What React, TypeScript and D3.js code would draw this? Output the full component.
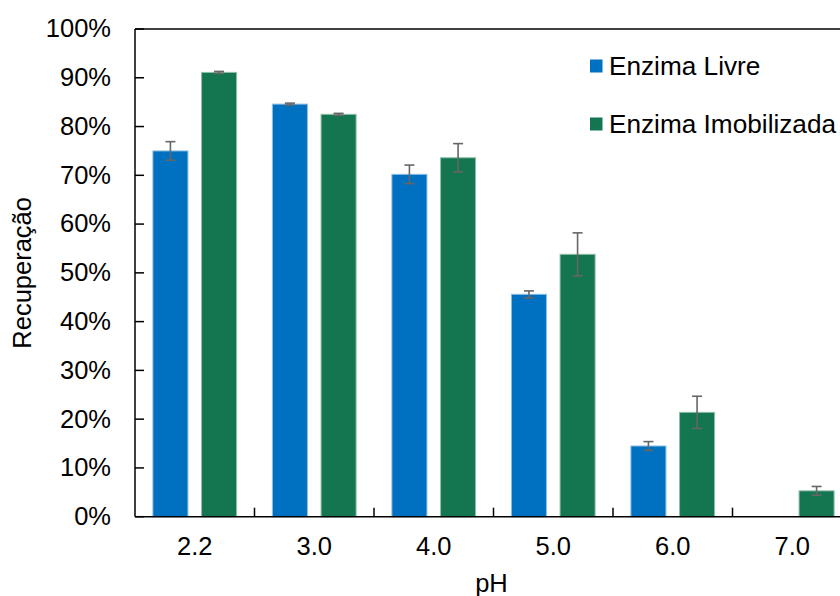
import React, { useEffect, useRef } from 'react';
import * as d3 from 'd3';

const categories = ['2.2', '3.0', '4.0', '5.0', '6.0', '7.0'];
const seriesNames = ['Enzima Livre', 'Enzima Imobilizada'];
const livre = [75.0, 84.6, 70.2, 45.6, 14.5, null];
const livreErr = [1.9, 0.2, 1.9, 0.7, 0.9, null];
const imob = [91.1, 82.5, 73.6, 53.8, 21.4, 5.3];
const imobErr = [0.2, 0.2, 2.9, 4.4, 3.3, 0.9];
const yTicks = [0, 10, 20, 30, 40, 50, 60, 70, 80, 90, 100];

const colors = ['#0070C0', '#147650'];
const edgeColors = ['#8dbfe3', '#8fbfa8'];

const App = () => {
    const ref = useRef<SVGSVGElement>(null);

    useEffect(() => {
        const svg = d3.select(ref.current);
        svg.selectAll('*').remove();

        const font = '"Liberation Sans", Arial, sans-serif';
        const left = 135;
        const right = 852;
        const top = 29;
        const bottom = 516.7;

        const x = d3.scaleBand().domain(categories).range([left, right]).padding(0);
        const xInner = d3.scaleBand()
            .domain(seriesNames)
            .range([0, x.bandwidth()])
            .paddingInner(0.28)
            .paddingOuter(0.368);
        const y = d3.scaleLinear().domain([0, 100]).range([bottom, top]);

        const data = [
            { name: seriesNames[0], values: livre, errs: livreErr },
            { name: seriesNames[1], values: imob, errs: imobErr },
        ];

        // Bars
        data.forEach((s, si) => {
            const g = svg.append('g');
            categories.forEach((c, i) => {
                const v = s.values[i];
                if (v == null) return;
                const bx = (x(c) as number) + (xInner(s.name) as number);
                g.append('rect')
                    .attr('x', bx)
                    .attr('y', y(v))
                    .attr('width', xInner.bandwidth())
                    .attr('height', bottom - y(v))
                    .attr('fill', colors[si])
                    .attr('stroke', edgeColors[si])
                    .attr('stroke-width', 1);
            });
        });

        // Error bars
        data.forEach((s) => {
            const g = svg.append('g').attr('stroke', '#666666').attr('stroke-width', 1.6).attr('fill', 'none');
            categories.forEach((c, i) => {
                const v = s.values[i];
                const e = s.errs[i];
                if (v == null || e == null) return;
                const cx = (x(c) as number) + (xInner(s.name) as number) + xInner.bandwidth() / 2;
                g.append('line').attr('x1', cx).attr('x2', cx).attr('y1', y(v + e)).attr('y2', y(v - e));
                g.append('line').attr('x1', cx - 5).attr('x2', cx + 5).attr('y1', y(v + e)).attr('y2', y(v + e));
                g.append('line').attr('x1', cx - 5).attr('x2', cx + 5).attr('y1', y(v - e)).attr('y2', y(v - e));
            });
        });

        // Axes frame
        const axisColor = '#000000';
        svg.append('line').attr('x1', left).attr('x2', left).attr('y1', top).attr('y2', bottom)
            .attr('stroke', axisColor).attr('stroke-width', 1.5);
        svg.append('line').attr('x1', left).attr('x2', right).attr('y1', bottom).attr('y2', bottom)
            .attr('stroke', axisColor).attr('stroke-width', 1.5);
        svg.append('line').attr('x1', left).attr('x2', right).attr('y1', top).attr('y2', top)
            .attr('stroke', axisColor).attr('stroke-width', 1.5);

        // Y ticks and labels
        yTicks.forEach(t => {
            svg.append('line')
                .attr('x1', left).attr('x2', left + 9)
                .attr('y1', y(t)).attr('y2', y(t))
                .attr('stroke', axisColor).attr('stroke-width', 1.5);
            svg.append('text')
                .attr('x', 111)
                .attr('y', y(t))
                .attr('dy', '0.33em')
                .attr('text-anchor', 'end')
                .style('font-family', font)
                .style('font-size', '25.5px')
                .style('fill', '#000')
                .text(`${t}%`);
        });

        // X ticks (category boundaries) and labels
        categories.forEach((c, i) => {
            if (i > 0) {
                svg.append('line')
                    .attr('x1', x(c) as number).attr('x2', x(c) as number)
                    .attr('y1', bottom).attr('y2', bottom - 9)
                    .attr('stroke', axisColor).attr('stroke-width', 1.5);
            }
            svg.append('text')
                .attr('x', (x(c) as number) + x.bandwidth() / 2)
                .attr('y', 555)
                .attr('text-anchor', 'middle')
                .style('font-family', font)
                .style('font-size', '25.5px')
                .style('fill', '#000')
                .text(c);
        });

        // Axis titles
        svg.append('text')
            .attr('x', (left + right) / 2 - 2)
            .attr('y', 592)
            .attr('text-anchor', 'middle')
            .style('font-family', font)
            .style('font-size', '25.5px')
            .style('fill', '#000')
            .text('pH');

        svg.append('text')
            .attr('transform', `translate(31, ${(top + bottom) / 2}) rotate(-90)`)
            .attr('text-anchor', 'middle')
            .style('font-family', font)
            .style('font-size', '25.5px')
            .style('fill', '#000')
            .text('Recuperação');

        // Legend
        const legend = svg.selectAll('.legend')
            .data(seriesNames)
            .enter()
            .append('g')
            .attr('class', 'legend')
            .attr('transform', (d, i) => `translate(590, ${66 + i * 58})`);

        legend.append('rect')
            .attr('x', 0)
            .attr('y', -6.5)
            .attr('width', 12.5)
            .attr('height', 13)
            .attr('fill', (d, i) => colors[i]);

        legend.append('text')
            .attr('x', 19)
            .attr('y', 0)
            .attr('dy', '0.35em')
            .style('font-family', font)
            .style('font-size', '26.2px')
            .style('fill', '#000')
            .text(d => d);
    }, []);

    return (
        <svg
            ref={ref}
            width={840}
            height={596}
            style={{ position: 'absolute', left: 0, top: 0, background: '#fff' }}
        />
    );
};

export default App;
